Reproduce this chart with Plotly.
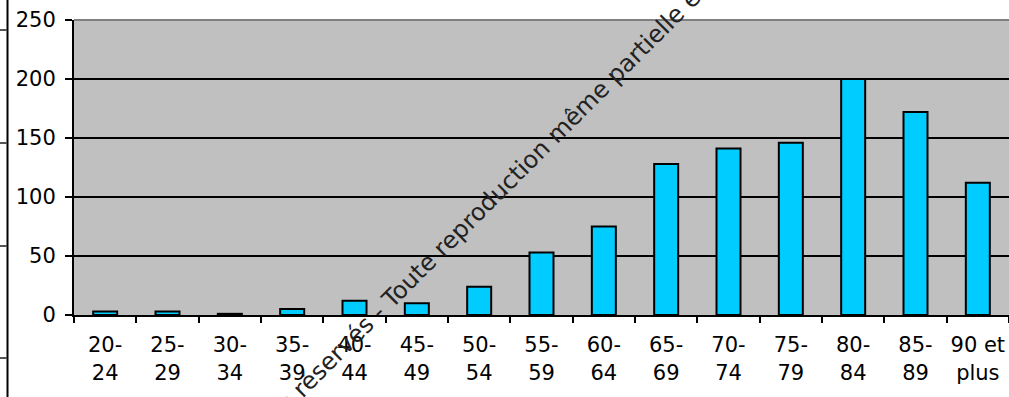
import plotly.graph_objects as go

categories = ["20-24", "25-29", "30-34", "35-39", "40-44", "45-49", "50-54", "55-59",
              "60-64", "65-69", "70-74", "75-79", "80-84", "85-89", "90 et plus"]
tick_labels = ["20-<br>24", "25-<br>29", "30-<br>34", "35-<br>39", "40-<br>44", "45-<br>49",
               "50-<br>54", "55-<br>59", "60-<br>64", "65-<br>69", "70-<br>74", "75-<br>79",
               "80-<br>84", "85-<br>89", "90 et<br>plus"]
values = [3, 3, 1, 5, 12, 10, 24, 53, 75, 128, 141, 146, 200, 172, 112]
y_ticks = [0, 50, 100, 150, 200, 250]
watermark = "Droits réservés - Toute reproduction même partielle est interdite"

W, H = 1009, 397
L, R, T, B = 74, 0, 20, 82
pw, ph = W - L - R, H - T - B

def px(x):
    return (x - L) / pw

def py(y):
    return (H - B - y) / ph

font = "DejaVu Sans, Arial, sans-serif"

fig = go.Figure()
fig.add_trace(go.Bar(
    x=categories, y=values,
    marker=dict(color="#00CCFF", line=dict(color="black", width=2)),
))

shapes = [
    dict(type="line", xref="paper", yref="paper", x0=0, x1=1, y0=1, y1=1,
         line=dict(color="#808080", width=2)),
    dict(type="line", xref="paper", yref="paper", x0=px(7.5), x1=px(7.5), y0=py(0), y1=py(397),
         line=dict(color="black", width=2)),
]
for yy in [30, 143, 246, 358]:
    shapes.append(dict(type="line", xref="paper", yref="paper", x0=px(0), x1=px(7), y0=py(yy), y1=py(yy),
                       line=dict(color="#555555", width=2)))

fig.update_layout(
    width=W, height=H,
    margin=dict(l=L, r=R, t=T, b=B, pad=0, autoexpand=False),
    paper_bgcolor="white", plot_bgcolor="#C0C0C0",
    bargap=0.615,
    showlegend=False,
    font=dict(family=font, size=21, color="black"),
    shapes=shapes,
    annotations=[dict(
        text=watermark, xref="paper", yref="paper", x=px(515), y=py(175),
        xanchor="center", yanchor="middle", textangle=-45, showarrow=False,
        font=dict(family=font, size=24, color="#222222"),
    )],
)
fig.update_xaxes(
    tickvals=categories, ticktext=tick_labels, tickson="boundaries", tickangle=0,
    ticks="outside", ticklen=6, tickwidth=2, tickcolor="black", automargin=False,
    showline=True, linecolor="black", linewidth=2, showgrid=False,
    tickfont=dict(size=21), ticklabelstandoff=10,
)
fig.update_yaxes(
    range=[0, 250], tickvals=y_ticks, automargin=False,
    ticks="outside", ticklen=7, tickwidth=2, tickcolor="black",
    showline=True, linecolor="black", linewidth=2,
    showgrid=True, gridcolor="black", gridwidth=2, zeroline=False,
    tickfont=dict(size=21), ticklabelstandoff=5,
)

fig.write_html("out.html")
